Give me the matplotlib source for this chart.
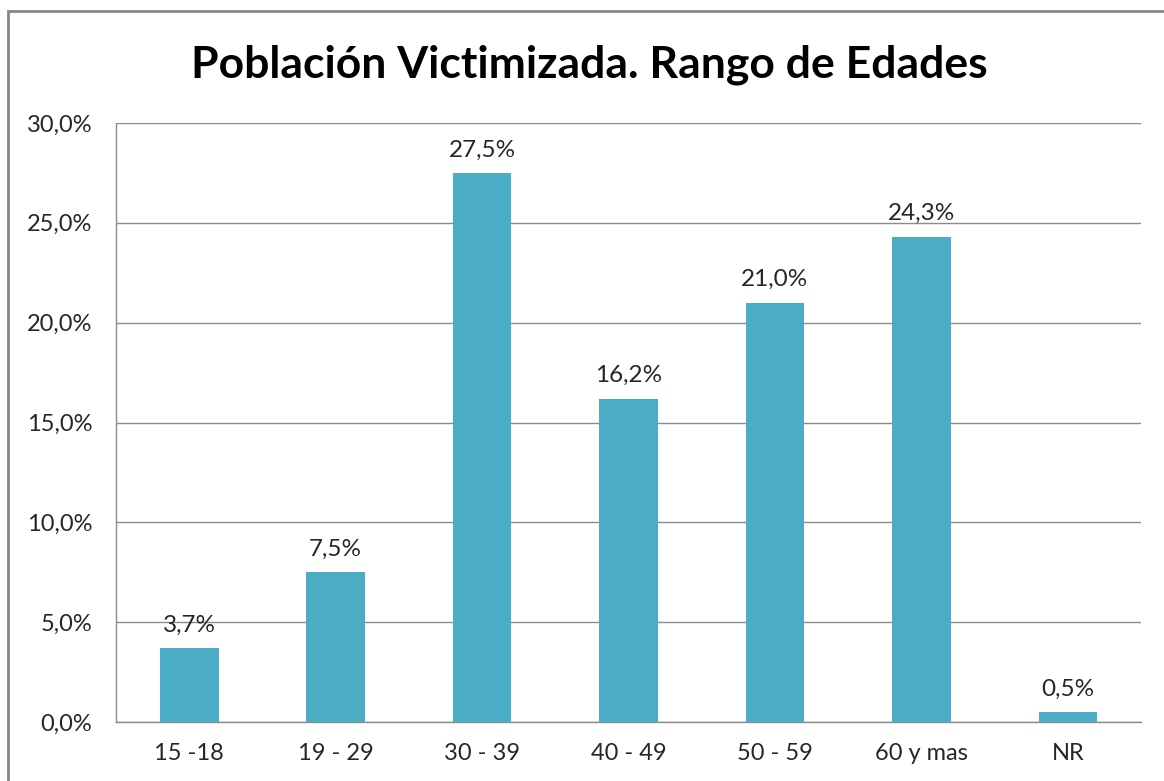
import matplotlib
matplotlib.use("Agg")
import matplotlib.pyplot as plt
from matplotlib.patches import Rectangle
from matplotlib.ticker import FuncFormatter, MultipleLocator

categories = ["15 -18", "19 - 29", "30 - 39", "40 - 49", "50 - 59", "60 y mas", "NR"]
values = [3.7, 7.5, 27.5, 16.2, 21.0, 24.3, 0.5]
title = "Población Victimizada. Rango de Edades"

plt.rcParams['font.family'] = ['Lato', 'DejaVu Sans']

fig = plt.figure(figsize=(11.64, 7.81), dpi=100)
ax = fig.add_axes([116/1164, 1 - 722/781, (1141-116)/1164, (722-123)/781])

bar_color = "#4BACC6"
x = range(len(categories))
bars = ax.bar(x, values, width=0.4, color=bar_color, zorder=3)

for xi, v in zip(x, values):
    ax.annotate(f"{v:.1f}%".replace(".", ","), (xi, v), xytext=(0, 9),
                textcoords="offset points", ha="center", va="bottom",
                fontsize=17.5, color="#262626")

ax.set_xlim(-0.5, len(categories) - 0.5)
ax.set_ylim(0, 30)
ax.yaxis.set_major_locator(MultipleLocator(5))
ax.yaxis.set_major_formatter(FuncFormatter(lambda v, p: f"{v:.1f}%".replace(".", ",")))
ax.set_xticks(list(x))
ax.set_xticklabels(categories)
ax.grid(axis="y", color="#8c8c8c", linewidth=1.0, zorder=0)
ax.tick_params(axis="both", length=0, labelsize=17, colors="#262626")
ax.tick_params(axis="y", pad=17)
ax.tick_params(axis="x", pad=15)
for s in ["top", "right"]:
    ax.spines[s].set_visible(False)
for s in ["left", "bottom"]:
    ax.spines[s].set_color("#8c8c8c")
    ax.spines[s].set_linewidth(1.0)

fig.text(589/1164, 1 - 65/781, title, ha="center", va="center",
         fontsize=32, fontweight="bold", color="black")

frame = Rectangle((8/1164, -0.05), 1.2, 1 - 11/781 + 0.05, transform=fig.transFigure,
                  fill=False, edgecolor="#868686", linewidth=2.0)
fig.patches.append(frame)

fig.savefig("out.png", dpi=100)
